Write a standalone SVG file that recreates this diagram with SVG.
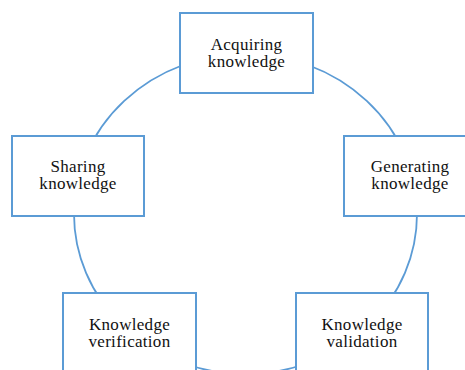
<svg xmlns="http://www.w3.org/2000/svg" width="465" height="370" viewBox="0 0 465 370">
<style>
.box{fill:#fff;stroke:#5B9BD5;stroke-width:2}
.conn{fill:none;stroke:#5B9BD5;stroke-width:1.8}
text{font-family:"Liberation Serif","Times New Roman",serif;font-size:17px;letter-spacing:0.3px;fill:#111;text-anchor:middle}
</style>
<rect width="465" height="370" fill="#fff"/>
<g id="connectors">
<ellipse class="conn" cx="245.5" cy="214" rx="171.5" ry="160"/>
</g>
<g id="acquiring">
<rect class="box" x="180" y="13" width="133" height="80"/>
<text x="246.5" y="49.5">Acquiring</text>
<text x="246.5" y="67">knowledge</text>
</g>
<g id="generating">
<rect class="box" x="344" y="136" width="133" height="80"/>
<text x="410" y="171.5">Generating</text>
<text x="410" y="189">knowledge</text>
</g>
<g id="validation">
<rect class="box" x="296" y="293" width="132" height="90"/>
<text x="362" y="329.5">Knowledge</text>
<text x="362" y="347">validation</text>
</g>
<g id="verification">
<rect class="box" x="63" y="293" width="133" height="90"/>
<text x="129.5" y="329.5">Knowledge</text>
<text x="129.5" y="347">verification</text>
</g>
<g id="sharing">
<rect class="box" x="12" y="136" width="132" height="80"/>
<text x="78" y="171.5">Sharing</text>
<text x="78" y="189">knowledge</text>
</g>
</svg>
